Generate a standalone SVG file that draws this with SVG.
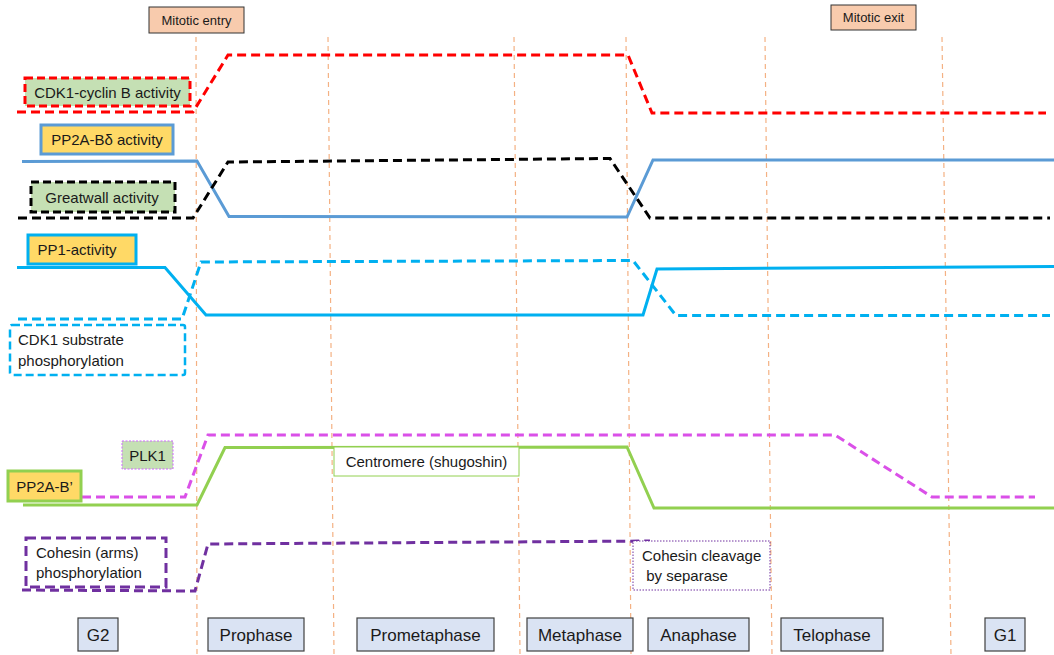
<svg xmlns="http://www.w3.org/2000/svg" width="1054" height="655" viewBox="0 0 1054 655">
<style>
text{font-family:"Liberation Sans",Arial,sans-serif;fill:#1a1a1a}
.lbl{font-size:15px}
.ph{font-size:17px}
.top{font-size:13px}
.vl{stroke:#F4B183;stroke-width:1.2;stroke-dasharray:5,4;fill:none}
.phbox{fill:#DAE3F3;stroke:#404040;stroke-width:1.2}
.tr{fill:none;stroke-width:3;stroke-linejoin:miter}
</style>
<rect width="1054" height="655" fill="#fff"/>
<g id="phase-lines">
<path class="vl" d="M196 37 L197 655"/>
<path class="vl" d="M328 37 L334 655"/>
<path class="vl" d="M514 37 L520 655"/>
<path class="vl" d="M626 37 L631 655"/>
<path class="vl" d="M765 37 L772 655"/>
<path class="vl" d="M942 37 L951 655"/>
</g>
<g id="connectors">
<path class="tr" stroke="#FF0000" stroke-dasharray="9,5" d="M17 112 L193 112 L228 55 L628 55 L652 113 L1046 113"/>
<path class="tr" stroke="#5B9BD5" stroke-width="2.5" d="M22 161.5 L197 161 L229 216.5 L627 217 L653 160 L1054 160"/>
<path class="tr" stroke="#000" stroke-dasharray="9,5" d="M18 218 L193 218 L228 162 L610 158.5 L650 218 L1050 218"/>
<path class="tr" stroke="#00B0F0" d="M17 267.5 L165 267.5 L206 315 L643 315 L657 269 L1054 266.5"/>
<path class="tr" stroke="#00B0F0" stroke-dasharray="9,5" d="M18 319 L182 319 L201 262 L633 260.5 L676 315.5 L1050 315.5"/>
<path class="tr" stroke="#DA50E8" stroke-dasharray="9,5" d="M82 497 L185 497 L208 435 L835 435 L932 497 L1035 497"/>
<path class="tr" stroke="#92D050" d="M23 505 L197 505 L225 447.5 L627 447 L654 508 L1054 508"/>
<path class="tr" stroke="#7030A0" stroke-dasharray="9,5" d="M22 590 L195 591 L208 544 L650 541"/>
</g>
<g id="mitotic-entry">
<rect x="149" y="7" width="95" height="26" fill="#F8CBAD" stroke="#333" stroke-width="1"/>
<text class="top" x="196.5" y="24.5" text-anchor="middle">Mitotic entry</text>
</g>
<g id="mitotic-exit">
<rect x="831" y="5" width="85" height="25" fill="#F8CBAD" stroke="#333" stroke-width="1"/>
<text class="top" x="873.5" y="22" text-anchor="middle">Mitotic exit</text>
</g>
<g id="cdk1-cyclinb">
<rect x="25" y="78" width="165" height="28" fill="#C5E0B4" stroke="#FF0000" stroke-width="3" stroke-dasharray="8,4"/>
<text class="lbl" x="107.5" y="97.5" text-anchor="middle">CDK1-cyclin B activity</text>
</g>
<g id="pp2a-bdelta">
<rect x="41" y="125" width="132" height="29" fill="#FFD966" stroke="#5B9BD5" stroke-width="3"/>
<text class="lbl" x="107" y="145" text-anchor="middle">PP2A-Bδ activity</text>
</g>
<g id="greatwall">
<rect x="31" y="182" width="144" height="30" fill="#C5E0B4" stroke="#000" stroke-width="3" stroke-dasharray="8,4"/>
<text class="lbl" x="102" y="202.5" text-anchor="middle">Greatwall activity</text>
</g>
<g id="pp1">
<rect x="28" y="235" width="108" height="29" fill="#FFD966" stroke="#00B0F0" stroke-width="3"/>
<text class="lbl" x="77" y="255" text-anchor="middle">PP1-activity</text>
</g>
<g id="cdk1-substrate">
<rect x="10" y="325" width="175" height="50" rx="2" fill="#fff" stroke="#00B0F0" stroke-width="2.5" stroke-dasharray="8,4"/>
<text class="lbl" x="18" y="345">CDK1 substrate</text>
<text class="lbl" x="18" y="366">phosphorylation</text>
</g>
<g id="plk1">
<rect x="122" y="441" width="51" height="28" fill="#C5E0B4" stroke="#CC66FF" stroke-width="1" stroke-dasharray="2,1.5"/>
<text class="lbl" x="147.5" y="460.5" text-anchor="middle">PLK1</text>
</g>
<g id="pp2a-bprime">
<rect x="8" y="471" width="73" height="30" fill="#FFD966" stroke="#92D050" stroke-width="3"/>
<text class="lbl" x="44.5" y="491.5" text-anchor="middle">PP2A-B’</text>
</g>
<g id="centromere">
<rect x="334" y="447" width="185" height="29" fill="#fff" stroke="#92D050" stroke-width="1"/>
<text class="lbl" x="426.5" y="467" text-anchor="middle">Centromere (shugoshin)</text>
</g>
<g id="cohesin-arms">
<rect x="26" y="538" width="140" height="49" fill="#fff" stroke="#7030A0" stroke-width="3" stroke-dasharray="10,5"/>
<text class="lbl" x="36" y="558">Cohesin (arms)</text>
<text class="lbl" x="36" y="578">phosphorylation</text>
</g>
<g id="cohesin-cleavage">
<rect x="633" y="541" width="137" height="49" fill="#fff" stroke="#7030A0" stroke-width="1" stroke-dasharray="1.5,1.5"/>
<text class="lbl" x="642" y="561">Cohesin cleavage</text>
<text class="lbl" x="642" y="581" xml:space="preserve"> by separase</text>
</g>
<g id="g2"><rect class="phbox" x="78" y="618" width="40" height="33"/><text class="ph" x="98" y="640.5" text-anchor="middle">G2</text></g>
<g id="prophase"><rect class="phbox" x="208" y="618" width="96" height="33"/><text class="ph" x="256" y="640.5" text-anchor="middle">Prophase</text></g>
<g id="prometaphase"><rect class="phbox" x="357" y="618" width="137" height="33"/><text class="ph" x="425.5" y="640.5" text-anchor="middle">Prometaphase</text></g>
<g id="metaphase"><rect class="phbox" x="527" y="618" width="106" height="33"/><text class="ph" x="580" y="640.5" text-anchor="middle">Metaphase</text></g>
<g id="anaphase"><rect class="phbox" x="648" y="618" width="101" height="33"/><text class="ph" x="698.5" y="640.5" text-anchor="middle">Anaphase</text></g>
<g id="telophase"><rect class="phbox" x="781" y="618" width="102" height="33"/><text class="ph" x="832" y="640.5" text-anchor="middle">Telophase</text></g>
<g id="g1"><rect class="phbox" x="985" y="618" width="40" height="33"/><text class="ph" x="1005" y="640.5" text-anchor="middle">G1</text></g>
</svg>
